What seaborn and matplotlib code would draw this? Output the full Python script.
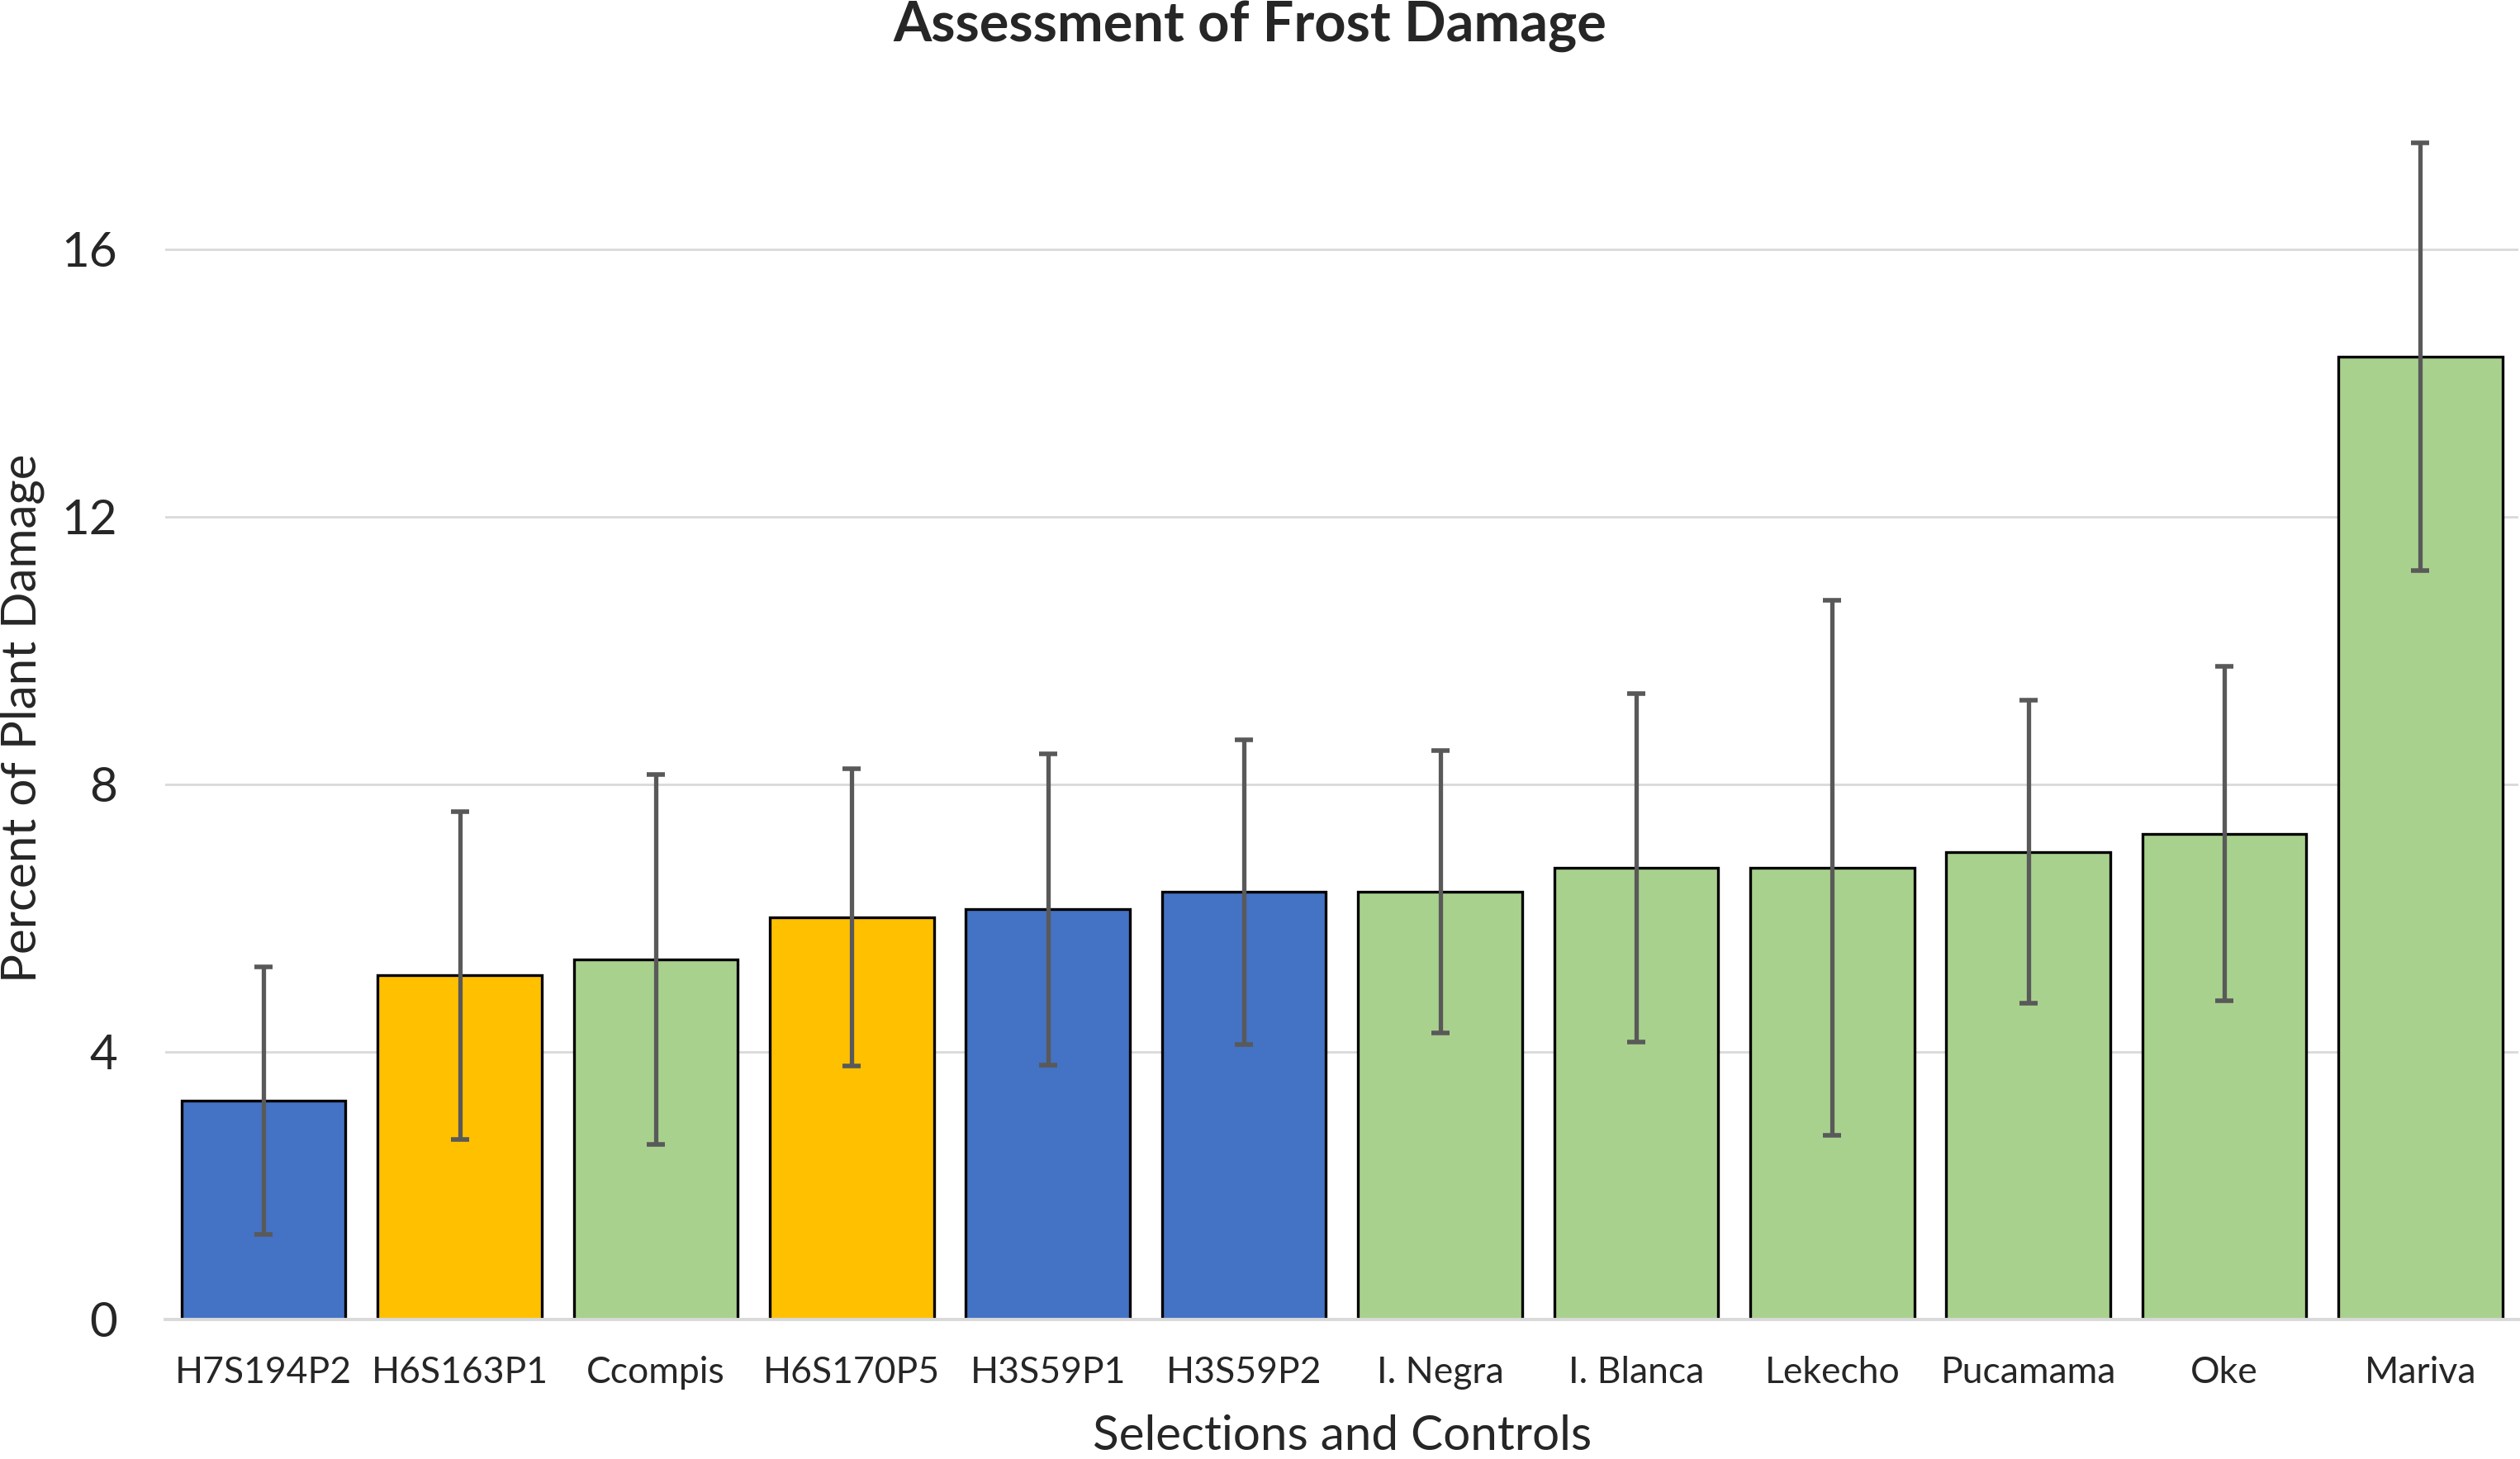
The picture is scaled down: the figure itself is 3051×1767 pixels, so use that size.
import numpy as np
import pandas as pd
import matplotlib
matplotlib.use('Agg')
import matplotlib.pyplot as plt
import seaborn as sns

sns.set_style('white')
plt.rcParams['font.family'] = ['Lato', 'DejaVu Sans']

# data
labels = ['H7S194P2', 'H6S163P1', 'Ccompis', 'H6S170P5', 'H3S59P1', 'H3S59P2',
          'I. Negra', 'I. Blanca', 'Lekecho', 'Pucamama', 'Oke', 'Mariva']
damage = [3.27, 5.14, 5.38, 6.01, 6.13, 6.39, 6.39, 6.75, 6.75, 6.99, 7.26, 14.39]
err = [2.0, 2.45, 2.76, 2.22, 2.33, 2.28, 2.11, 2.6, 4.0, 2.27, 2.5, 3.2]
group = ['sel_blue', 'sel_yellow', 'control', 'sel_yellow', 'sel_blue', 'sel_blue',
         'control', 'control', 'control', 'control', 'control', 'control']
yticks = [0, 4, 8, 12, 16]

colors = {'sel_blue': '#4472C4', 'sel_yellow': '#FFC000', 'control': '#A9D18E'}

df = pd.DataFrame({'name': labels, 'damage': damage, 'err': err, 'group': group})

fig = plt.figure(figsize=(15.255, 8.835), dpi=200)
ax = fig.add_axes([0.0657, 0.0958, 0.9337, 0.825])

sns.barplot(data=df, x='name', y='damage', hue='group', palette=colors,
            saturation=1, dodge=False, legend=False, width=0.836,
            edgecolor='black', linewidth=1.2, ax=ax, zorder=2)
ax.errorbar(np.arange(len(labels)), df['damage'], yerr=df['err'], fmt='none',
            ecolor='#595959', elinewidth=1.9, capsize=3.8, capthick=2.0, zorder=3)

ax.set_xlim(-0.5, len(labels) - 0.5)
ax.set_ylim(0, 18)
ax.set_yticks(yticks)
ax.yaxis.grid(True, color='#D9D9D9', linewidth=1.0, zorder=0)
ax.set_axisbelow(True)
for s in ['top', 'right', 'left']:
    ax.spines[s].set_visible(False)
ax.spines['bottom'].set_color('#D9D9D9')
ax.spines['bottom'].set_linewidth(1.4)
ax.tick_params(axis='x', length=0, pad=16, labelsize=16)
ax.tick_params(axis='y', length=0, pad=21, labelsize=21)

ax.set_xlabel('')
ax.set_ylabel('')
fig.text(0.5325, 0.006, 'Selections and Controls', ha='center', va='baseline', fontsize=21)
fig.text(0.009, 0.508, 'Percent of Plant Damage', rotation=90, ha='center', va='center', fontsize=21)
fig.text(0.496, 0.982, 'Assessment of Frost Damage', ha='center', va='center',
         fontsize=24, fontweight='bold')

fig.savefig('out.png', dpi=200)
